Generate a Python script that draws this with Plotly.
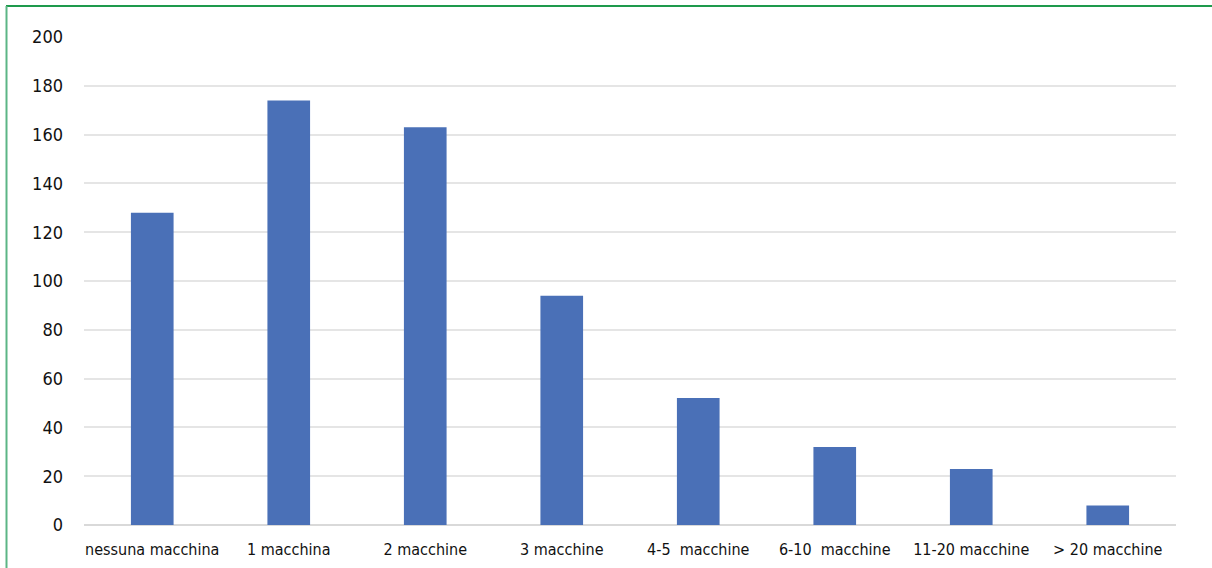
import plotly.graph_objects as go

categories = ["nessuna macchina", "1 macchina", "2 macchine", "3 macchine",
              "4-5  macchine", "6-10  macchine", "11-20 macchine", "> 20 macchine"]
values = [128, 174, 163, 94, 52, 32, 23, 8]
y_ticks = [0, 20, 40, 60, 80, 100, 120, 140, 160, 180, 200]

W, H = 1212, 568
ML, MR, MT, MB = 84, 36, 37, 43
PW, PH = W - ML - MR, H - MT - MB

def px(x):
    return (x - ML) / PW

def py(y):
    return (H - MB - y) / PH

FONT = "DejaVu Sans Condensed, sans-serif"

fig = go.Figure(go.Bar(
    x=categories, y=values,
    marker=dict(color="#4a70b7", line=dict(width=0)),
    hoverinfo="x+y",
))

fig.update_layout(
    width=W, height=H,
    margin=dict(l=ML, r=MR, t=MT, b=MB, autoexpand=False),
    paper_bgcolor="white", plot_bgcolor="white",
    bargap=0.6875,
    showlegend=False,
    font=dict(family=FONT, size=16, color="#111111"),
    xaxis=dict(showgrid=False, showline=False, ticks="", tickfont=dict(size=16),
               tickangle=0, automargin=False, ticklabelstandoff=13),
    yaxis=dict(range=[0, 200], tickvals=y_ticks, showgrid=True, gridcolor="#e5e5e5",
               gridwidth=1.5, zeroline=True, zerolinecolor="#d9d9d9", zerolinewidth=1.5,
               showline=False, ticks="", tickfont=dict(size=18), automargin=False,
               ticklabelstandoff=20),
    shapes=[
        dict(type="line", xref="paper", yref="paper", x0=px(6), x1=px(W + 5),
             y0=py(6), y1=py(6), line=dict(color="#1e9a4c", width=2)),
        dict(type="line", xref="paper", yref="paper", x0=px(6.5), x1=px(6.5),
             y0=py(6), y1=py(H + 5), line=dict(color="#5cb585", width=2)),
    ],
)

fig.write_html("out.html", config={"displayModeBar": False},
               post_script="document.body.style.margin='0';document.body.style.overflow='hidden';")
